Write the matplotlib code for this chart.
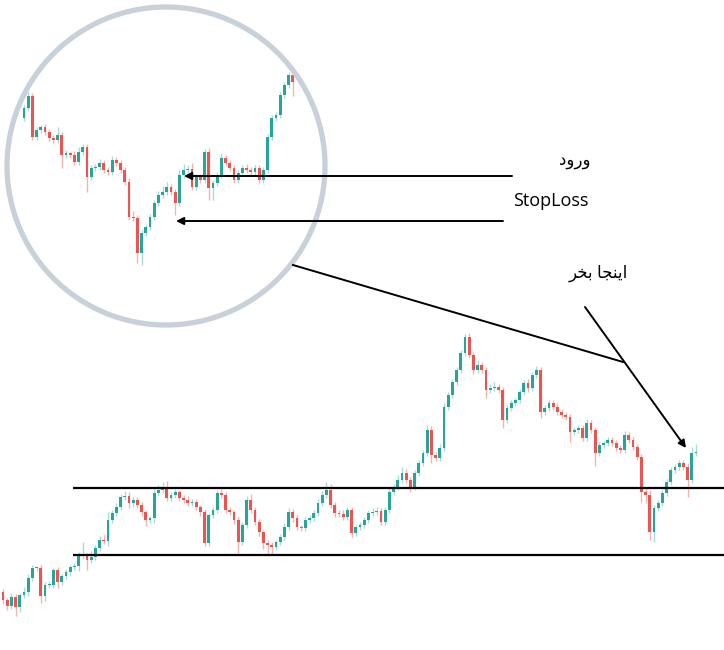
import numpy as np
import matplotlib.pyplot as plt
from matplotlib.patches import Circle

# main chart: closing prices, first open, wick lengths
main_open0 = 58
main_close = [50, 44, 53, 43, 55, 58, 72, 82, 82, 54,
              65, 65, 80, 68, 74, 78, 83, 84, 94, 94,
              90, 93, 102, 110, 109, 130, 137, 143, 153, 154,
              147, 150, 145, 138, 130, 132, 157, 160, 162, 152,
              155, 158, 152, 150, 147, 148, 143, 138, 107, 135,
              140, 157, 155, 140, 138, 130, 108, 125, 150, 140,
              128, 118, 107, 105, 103, 108, 113, 123, 138, 132,
              123, 122, 130, 132, 137, 147, 155, 160, 145, 137,
              136, 133, 140, 117, 123, 125, 130, 137, 138, 139,
              128, 140, 158, 163, 170, 177, 170, 163, 177, 187,
              197, 220, 195, 192, 202, 243, 255, 268, 280, 297,
              313, 295, 280, 285, 280, 260, 262, 263, 260, 230,
              242, 247, 250, 258, 267, 262, 275, 280, 238, 242,
              247, 243, 238, 235, 233, 218, 220, 222, 212, 227,
              220, 197, 205, 207, 210, 207, 202, 200, 215, 210,
              203, 193, 158, 155, 118, 142, 147, 157, 168, 180,
              183, 187, 183, 170, 197, 198]
main_up = [3, 2, 4, 3, 2, 5, 4, 3, 2, 3,
           3, 4, 2, 3, 2, 3, 2, 3, 4, 14,
           3, 6, 3, 4, 5, 8, 3, 4, 3, 5,
           4, 3, 3, 3, 2, 2, 4, 5, 6, 7,
           3, 3, 2, 3, 4, 3, 3, 2, 3, 2,
           3, 3, 4, 3, 3, 2, 3, 3, 4, 6,
           3, 3, 2, 3, 3, 2, 3, 4, 4, 3,
           3, 2, 3, 3, 3, 4, 4, 8, 6, 3,
           3, 4, 3, 3, 2, 3, 3, 3, 4, 4,
           3, 3, 4, 3, 5, 6, 4, 3, 3, 3,
           3, 5, 4, 3, 4, 4, 3, 3, 3, 3,
           3, 4, 3, 5, 3, 3, 4, 5, 3, 3,
           3, 3, 2, 3, 3, 4, 3, 4, 3, 3,
           3, 3, 4, 3, 3, 3, 3, 3, 3, 4,
           3, 3, 3, 2, 3, 3, 3, 3, 4, 3,
           3, 3, 3, 3, 5, 3, 3, 3, 3, 3,
           3, 3, 3, 4, 6, 8]
main_dn = [4, 4, 3, 9, 5, 3, 4, 3, 3, 7,
           5, 3, 3, 6, 3, 3, 4, 3, 5, 3,
           10, 3, 3, 3, 3, 5, 3, 3, 3, 3,
           5, 4, 3, 4, 6, 3, 5, 3, 3, 3,
           3, 3, 3, 3, 3, 3, 3, 4, 3, 3,
           3, 3, 3, 3, 3, 4, 11, 3, 3, 3,
           3, 4, 6, 11, 8, 3, 3, 3, 3, 4,
           3, 3, 3, 3, 3, 3, 3, 3, 3, 4,
           3, 3, 3, 4, 3, 3, 3, 3, 3, 3,
           3, 3, 3, 3, 3, 3, 3, 5, 3, 3,
           3, 3, 8, 3, 3, 3, 3, 3, 3, 3,
           3, 3, 4, 3, 3, 8, 3, 3, 3, 8,
           3, 3, 3, 3, 3, 4, 3, 3, 6, 3,
           3, 3, 3, 3, 3, 10, 3, 3, 3, 3,
           3, 13, 3, 3, 3, 3, 3, 3, 3, 3,
           3, 3, 10, 8, 8, 10, 3, 3, 3, 3,
           3, 3, 3, 17, 3, 3]
levels = [162, 95]

# magnified section inside the circle
inset_open0 = 532
inset_close = [542, 554, 513, 520, 523, 518, 512, 510, 515, 495,
               497, 495, 488, 498, 503, 473, 482, 483, 487, 480,
               478, 490, 487, 480, 468, 433, 432, 397, 417, 423,
               433, 447, 455, 458, 463, 458, 447, 475, 480, 481,
               463, 473, 470, 498, 462, 467, 475, 492, 487, 482,
               470, 477, 482, 480, 478, 482, 470, 480, 513, 532,
               535, 555, 565, 575, 568]
inset_up = [3, 4, 3, 3, 2, 3, 3, 3, 8, 3,
            3, 2, 4, 5, 3, 3, 3, 3, 4, 3,
            3, 4, 3, 3, 3, 4, 6, 3, 3, 3,
            3, 3, 4, 6, 5, 3, 3, 5, 6, 4,
            6, 3, 3, 3, 4, 3, 3, 5, 3, 3,
            3, 3, 3, 4, 3, 3, 3, 3, 3, 3,
            3, 3, 3, 3, 4]
inset_dn = [3, 3, 3, 3, 3, 3, 3, 3, 3, 13,
            3, 3, 3, 3, 3, 15, 3, 3, 3, 3,
            3, 3, 3, 3, 3, 3, 3, 10, 12, 3,
            3, 3, 3, 3, 3, 3, 12, 3, 3, 3,
            3, 3, 3, 3, 12, 12, 3, 3, 3, 3,
            3, 3, 3, 3, 3, 3, 3, 3, 3, 3,
            3, 3, 3, 3, 14]

GREEN = '#26a69a'
RED = '#ef5350'


def candles(ax, open0, close, up, dn, width=0.7):
    c = np.array(close, dtype=float)
    o = np.concatenate([[open0], c[:-1]])
    x = np.arange(len(c))
    bull = c >= o
    body_lo = np.minimum(o, c)
    body_h = np.maximum(np.abs(c - o), 1.2)
    hi = np.maximum(o, c) + np.array(up)
    lo = body_lo - np.array(dn)
    wick_cols = np.where(bull, '#a8dcd7', '#f6b3b1')
    wl = ax.vlines(x, lo, hi, colors=wick_cols, lw=1, zorder=2)
    bars = ax.bar(x, body_h, bottom=body_lo, width=width,
                  color=np.where(bull, GREEN, RED), lw=0, zorder=3)
    return [wl] + list(bars.patches)


fig = plt.figure(figsize=(7.24, 6.5), dpi=100)

ax = fig.add_axes([0, 0, 1, 1])
ax.set_xlim(-3 / 4.2, 721 / 4.2)
ax.set_ylim(0, 650)
ax.axis('off')
candles(ax, main_open0, main_close, main_up, main_dn)
ax.hlines(levels, 16.7, 172, colors='black', lw=1.6, zorder=4)

ax_in = fig.add_axes([0, 0, 1, 1])
ax_in.set_xlim(-24 / 4.2, 700 / 4.2)
ax_in.set_ylim(0, 650)
ax_in.axis('off')
ax_in.patch.set_alpha(0)

ov = fig.add_axes([0, 0, 1, 1])
ov.set_xlim(0, 724)
ov.set_ylim(650, 0)
ov.axis('off')
ov.patch.set_alpha(0)

clip = Circle((166, 166), 157, transform=ov.transData)
for art in candles(ax_in, inset_open0, inset_close, inset_up, inset_dn):
    art.set_clip_path(clip)
ov.add_patch(Circle((166, 166), 159, fill=False, ec='#c8d0da', lw=3.8))

arrow = dict(arrowstyle='-|>', color='black', lw=1.4, mutation_scale=11,
             shrinkA=0, shrinkB=0)
ov.annotate('', xy=(184, 176), xytext=(512, 176), arrowprops=arrow)
ov.annotate('', xy=(176, 221), xytext=(503, 221), arrowprops=arrow)
ov.annotate('', xy=(686, 448), xytext=(585, 307), arrowprops=arrow)
ov.plot([293, 623], [265, 362], color='black', lw=1.4)

fam = ['Open Sans', 'DejaVu Sans']
ov.text(575, 161, '\u062f\u0648\u0631\u0648', family=fam, fontsize=12,
        ha='center', va='center')
ov.text(551, 201, 'StopLoss', family=fam, fontsize=13,
        ha='center', va='center')
ov.text(598, 273, '\ufeae\ufea8\ufe91 \ufe8e\ufea0\ufee8\ufef3\u0627',
        family=fam, fontsize=12, ha='center', va='center')

fig.savefig('out.png', dpi=100)
